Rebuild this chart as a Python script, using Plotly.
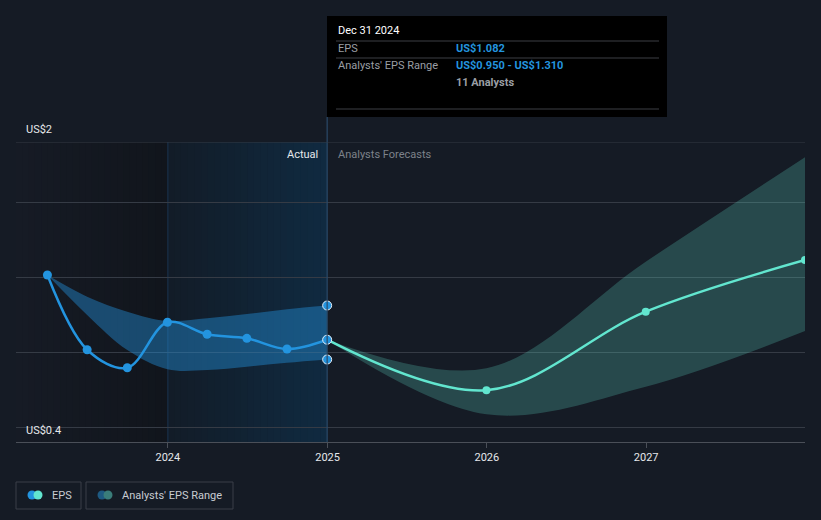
import numpy as np
import plotly.graph_objects as go

# фактические значения EPS (квартальные)
act_dates = ['2023-03-31', '2023-06-30', '2023-09-30', '2023-12-31',
             '2024-03-31', '2024-06-30', '2024-09-30', '2024-12-31']
act_eps = [1.513, 1.015, 0.895, 1.198, 1.118, 1.091, 1.020, 1.082]
act_hi = [1.513, 1.369, 1.269, 1.207, 1.225, 1.253, 1.285, 1.310]
act_lo = [1.513, 1.247, 1.013, 0.885, 0.880, 0.902, 0.928, 0.950]

# прогноз аналитиков
fc_dates = ['2024-12-31', '2025-12-31', '2026-12-31', '2027-12-31']
fc_eps = [1.082, 0.745, 1.269, 1.613]
fc_hi = [1.082, 0.891, 1.602, 2.298]
fc_lo = [1.082, 0.585, 0.769, 1.140]

tick_vals = ['2024-01-01', '2025-01-01', '2026-01-01', '2027-01-01']
tick_text = ['2024', '2025', '2026', '2027']

BG = '#151b25'
GRID = '#353b45'
BLUE = '#2394df'
TEAL = '#62e6cf'
FONT = 'Roboto'

x0, x1 = '2023-01-18', '2027-12-31'
y0, y1 = 0.4, 2.4

fig = go.Figure()

# диапазоны
fig.add_trace(go.Scatter(x=act_dates, y=act_hi, mode='lines', line=dict(width=0, shape='spline'),
                         hoverinfo='skip', showlegend=False))
fig.add_trace(go.Scatter(x=act_dates, y=act_lo, mode='lines', line=dict(width=0, shape='spline'),
                         fill='tonexty', fillcolor='rgba(35,148,223,0.42)', hoverinfo='skip', showlegend=False))
fig.add_trace(go.Scatter(x=fc_dates, y=fc_hi, mode='lines', line=dict(width=0, shape='spline'),
                         hoverinfo='skip', showlegend=False))
fig.add_trace(go.Scatter(x=fc_dates, y=fc_lo, mode='lines', line=dict(width=0, shape='spline'),
                         fill='tonexty', fillcolor='rgba(98,230,207,0.23)', hoverinfo='skip', showlegend=False))

# линии EPS
fig.add_trace(go.Scatter(x=fc_dates, y=fc_eps, mode='lines+markers',
                         line=dict(color=TEAL, width=2.5, shape='spline'),
                         marker=dict(size=8, color=TEAL), hoverinfo='skip', showlegend=False))
fig.add_trace(go.Scatter(x=act_dates, y=act_eps, mode='lines+markers',
                         line=dict(color=BLUE, width=2.5, shape='spline'),
                         marker=dict(size=9, color=BLUE), hoverinfo='skip', showlegend=False))
# выделенные точки на Dec 31 2024
fig.add_trace(go.Scatter(x=[act_dates[-1]] * 3, y=[act_hi[-1], act_eps[-1], act_lo[-1]], mode='markers',
                         marker=dict(size=9, color=BLUE, line=dict(color='#e8eef5', width=1)),
                         hoverinfo='skip', showlegend=False))

shapes = []

# фон: градиент полосами
def strips(start, end, c_from, c_to, n=24):
    t0 = np.datetime64(start)
    t1 = np.datetime64(end)
    span = (t1 - t0).astype(int)
    for i in range(n):
        a = t0 + np.timedelta64(int(span * i / n), 'D')
        b = t0 + np.timedelta64(int(span * (i + 1) / n) + 1, 'D')
        f = i / (n - 1)
        c = [int(round(c_from[k] + (c_to[k] - c_from[k]) * f)) for k in range(3)]
        shapes.append(dict(type='rect', xref='x', yref='y', x0=str(a), x1=str(min(b, t1)), y0=y0, y1=y1,
                           fillcolor='rgb(%d,%d,%d)' % tuple(c), line=dict(width=0), layer='below'))

strips(x0, '2024-01-01', (22, 27, 37), (17, 21, 28))
strips('2024-01-01', '2024-12-31', (18, 28, 40), (16, 42, 64))

shapes.append(dict(type='line', xref='x', yref='y', x0='2024-01-01', x1='2024-01-01', y0=y0, y1=y1,
                   line=dict(color='#1b3550', width=1), layer='below'))
shapes.append(dict(type='line', xref='x', yref='paper', x0='2024-12-31', x1='2024-12-31', y0=0, y1=1.083,
                   line=dict(color='#2a4a68', width=1.2)))
shapes.append(dict(type='line', xref='paper', yref='y', x0=0, x1=1, y0=y1, y1=y1,
                   line=dict(color=GRID, width=1)))

# экранные пиксели -> paper
def px(x):
    return (x - 16) / 789

def py(y):
    return (442 - y) / 300

# подсказка
shapes.append(dict(type='rect', xref='paper', yref='paper', x0=px(327), x1=px(667), y0=py(117), y1=py(16),
                   fillcolor='#000000', line=dict(width=0)))
for yy in [41, 58, 109]:
    shapes.append(dict(type='line', xref='paper', yref='paper', x0=px(336), x1=px(659), y0=py(yy), y1=py(yy),
                       line=dict(color='#3c3f44', width=1)))

# легенда
for bx0, bx1 in [(16, 81), (86, 233)]:
    shapes.append(dict(type='rect', xref='paper', yref='paper', x0=px(bx0), x1=px(bx1), y0=py(482), y1=py(509),
                       line=dict(color='#3a3f48', width=1), fillcolor='rgba(0,0,0,0)'))
for cx, col in [(32, BLUE), (38, TEAL), (102, '#1e5a82'), (108, '#3a7d7a')]:
    r = 4.5
    shapes.append(dict(type='circle', xref='paper', yref='paper', x0=px(cx - r), x1=px(cx + r),
                       y0=py(494 + r + 1), y1=py(494 - r + 1), fillcolor=col, line=dict(width=0)))

ann = []

def text(x, y, s, color='#d8dbe0', size=11, anchor='left'):
    ann.append(dict(xref='paper', yref='paper', x=px(x), y=py(y), text=s, showarrow=False,
                    xanchor=anchor, yanchor='middle', font=dict(color=color, size=size, family=FONT)))

text(24, 130, 'US$2', '#e6e8eb')
text(24, 430, 'US$0.4', '#e6e8eb')
text(320, 154, 'Actual', '#e6e8eb', anchor='right')
text(336, 154, 'Analysts Forecasts', '#7d828a')
text(336, 31, 'Dec 31 2024', '#ffffff')
text(336, 49, 'EPS', '#9a9ea4')
text(454, 49, '<b>US$1.082</b>', BLUE)
text(336, 66, "Analysts' EPS Range", '#9a9ea4')
text(454, 66, '<b>US$0.950 - US$1.310</b>', BLUE)
text(454, 83, '<b>11 Analysts</b>', '#9a9ea4')
text(50, 495, 'EPS', '#c8ccd2')
text(120, 495, "Analysts' EPS Range", '#c8ccd2')

# страница имеет отступ 8px, поэтому фигура 805x504
fig.update_layout(
    width=805, height=504,
    margin=dict(l=8, r=8, t=134, b=70),
    paper_bgcolor=BG, plot_bgcolor=BG,
    showlegend=False,
    shapes=shapes, annotations=ann,
    font=dict(family=FONT, size=11, color='#d8dbe0'),
    xaxis=dict(type='date', range=[x0, x1], tickvals=tick_vals, ticktext=tick_text,
               showgrid=False, zeroline=False, showline=True, linecolor='#4a4f58', linewidth=1,
               ticks='outside', ticklen=5, tickcolor='#4a4f58',
               tickfont=dict(color='#e6e8eb', size=11, family=FONT)),
    yaxis=dict(range=[y0, y1], tickvals=[0.5, 1.0, 1.5, 2.0], showticklabels=False,
               showgrid=True, gridcolor=GRID, gridwidth=1, zeroline=False),
    hovermode=False,
)

fig.write_html('out.html', post_script="document.body.style.background='%s';" % BG)
